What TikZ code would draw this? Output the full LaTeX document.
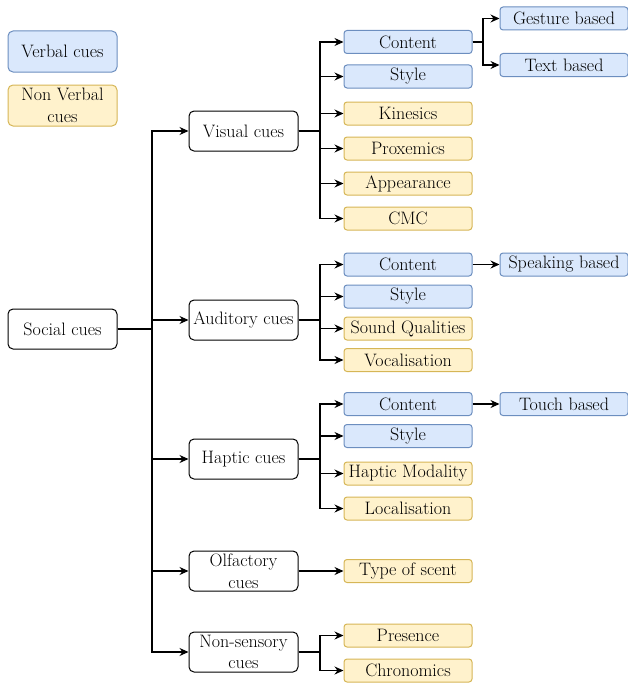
\documentclass[tikz,border=0pt]{standalone}
\usepackage{fontspec}
\usetikzlibrary{positioning,arrows.meta}
\definecolor{verbalFill}{HTML}{DAE8FC}
\definecolor{verbalLine}{HTML}{6C8EBF}
\definecolor{nonverbalFill}{HTML}{FFF2CC}
\definecolor{nonverbalLine}{HTML}{D6B656}

\begin{document}
\begin{tikzpicture}[x=1pt, y=-1pt,
    every node/.style={font=\fontsize{18}{21.5}\selectfont, align=center, inner sep=0pt},
    cue/.style={draw, rounded corners=5pt, line width=1pt, minimum width=109pt, minimum height=40pt},
    legend/.style={cue, minimum height=41pt},
    verbal/.style={draw=verbalLine, fill=verbalFill, rounded corners=3pt, line width=1pt, minimum width=128pt, minimum height=23pt},
    nonverbal/.style={verbal, draw=nonverbalLine, fill=nonverbalFill},
    link/.style={-{Stealth[length=9pt, width=8pt]}, line width=1.2pt}]
    \useasboundingbox (0,0) rectangle (628,685);

    % legend
    \node[legend, draw=verbalLine, fill=verbalFill] (lverb) at (62.5,51.5) {Verbal cues};
    \node[legend, draw=nonverbalLine, fill=nonverbalFill, below=12pt of lverb] (lnonverb) {Non Verbal\\cues};

    % root and senses
    \node[cue] (soc) at (62.5,329) {Social cues};
    \node[cue] (vis) at (243.5,131) {Visual cues};
    \node[cue] (aud) at (243.5,320) {Auditory cues};
    \node[cue] (hap) at (243.5,459) {Haptic cues};
    \node[cue] (olf) at (243.5,571) {Olfactory\\cues};
    \node[cue] (nons) at (243.5,652) {Non-sensory\\cues};

    % visual
    \node[verbal] (vcon) at (408,42) {Content};
    \node[verbal] (vsty) at (408,76.5) {Style};
    \node[nonverbal] (vkin) at (408,113.5) {Kinesics};
    \node[nonverbal] (vpro) at (408,148.5) {Proxemics};
    \node[nonverbal] (vapp) at (408,183.5) {Appearance};
    \node[nonverbal] (vcmc) at (408,218.5) {CMC};
    \node[verbal] (gest) at (564,18.5) {Gesture based};
    \node[verbal] (text) at (564,65) {Text based};

    % auditory
    \node[verbal] (acon) at (408,264.5) {Content};
    \node[verbal] (asty) at (408,296.5) {Style};
    \node[nonverbal] (asou) at (408,328.5) {Sound Qualities};
    \node[nonverbal] (avoc) at (408,360) {Vocalisation};
    \node[verbal] (speak) at (564,264.5) {Speaking based};

    % haptic
    \node[verbal] (hcon) at (408,404) {Content};
    \node[verbal] (hsty) at (408,436) {Style};
    \node[nonverbal] (hmod) at (408,473.5) {Haptic Modality};
    \node[nonverbal] (hloc) at (408,508.5) {Localisation};
    \node[verbal] (touch) at (564,404) {Touch based};

    % olfactory and non-sensory
    \node[nonverbal] (scent) at (408,571) {Type of scent};
    \node[nonverbal] (pres) at (408,635.5) {Presence};
    \node[nonverbal] (chron) at (408,670.5) {Chronomics};

    % bus points
    \coordinate (trunk) at (152,329);
    \coordinate (visbus) at (320,131);
    \coordinate (audbus) at (320,320);
    \coordinate (hapbus) at (320,459);
    \coordinate (nonsbus) at (320,652);
    \coordinate (vconbus) at (483,42);

    % connectors
    \foreach \t in {vis,aud,hap,olf,nons}
        \draw[link] (soc.east) -- (trunk) |- (\t.west);
    \foreach \t in {vcon,vsty,vkin,vpro,vapp,vcmc}
        \draw[link] (vis.east) -- (visbus) |- (\t.west);
    \foreach \t in {gest,text}
        \draw[link] (vcon.east) -- (vconbus) |- (\t.west);
    \foreach \t in {acon,asty,asou,avoc}
        \draw[link] (aud.east) -- (audbus) |- (\t.west);
    \foreach \t in {hcon,hsty,hmod,hloc}
        \draw[link] (hap.east) -- (hapbus) |- (\t.west);
    \foreach \t in {pres,chron}
        \draw[link] (nons.east) -- (nonsbus) |- (\t.west);
    \draw[link] (olf.east) -- (scent.west);
    \draw[link] (acon.east) -- (speak.west);
    \draw[link] (hcon.east) -- (touch.west);
\end{tikzpicture}
\end{document}
